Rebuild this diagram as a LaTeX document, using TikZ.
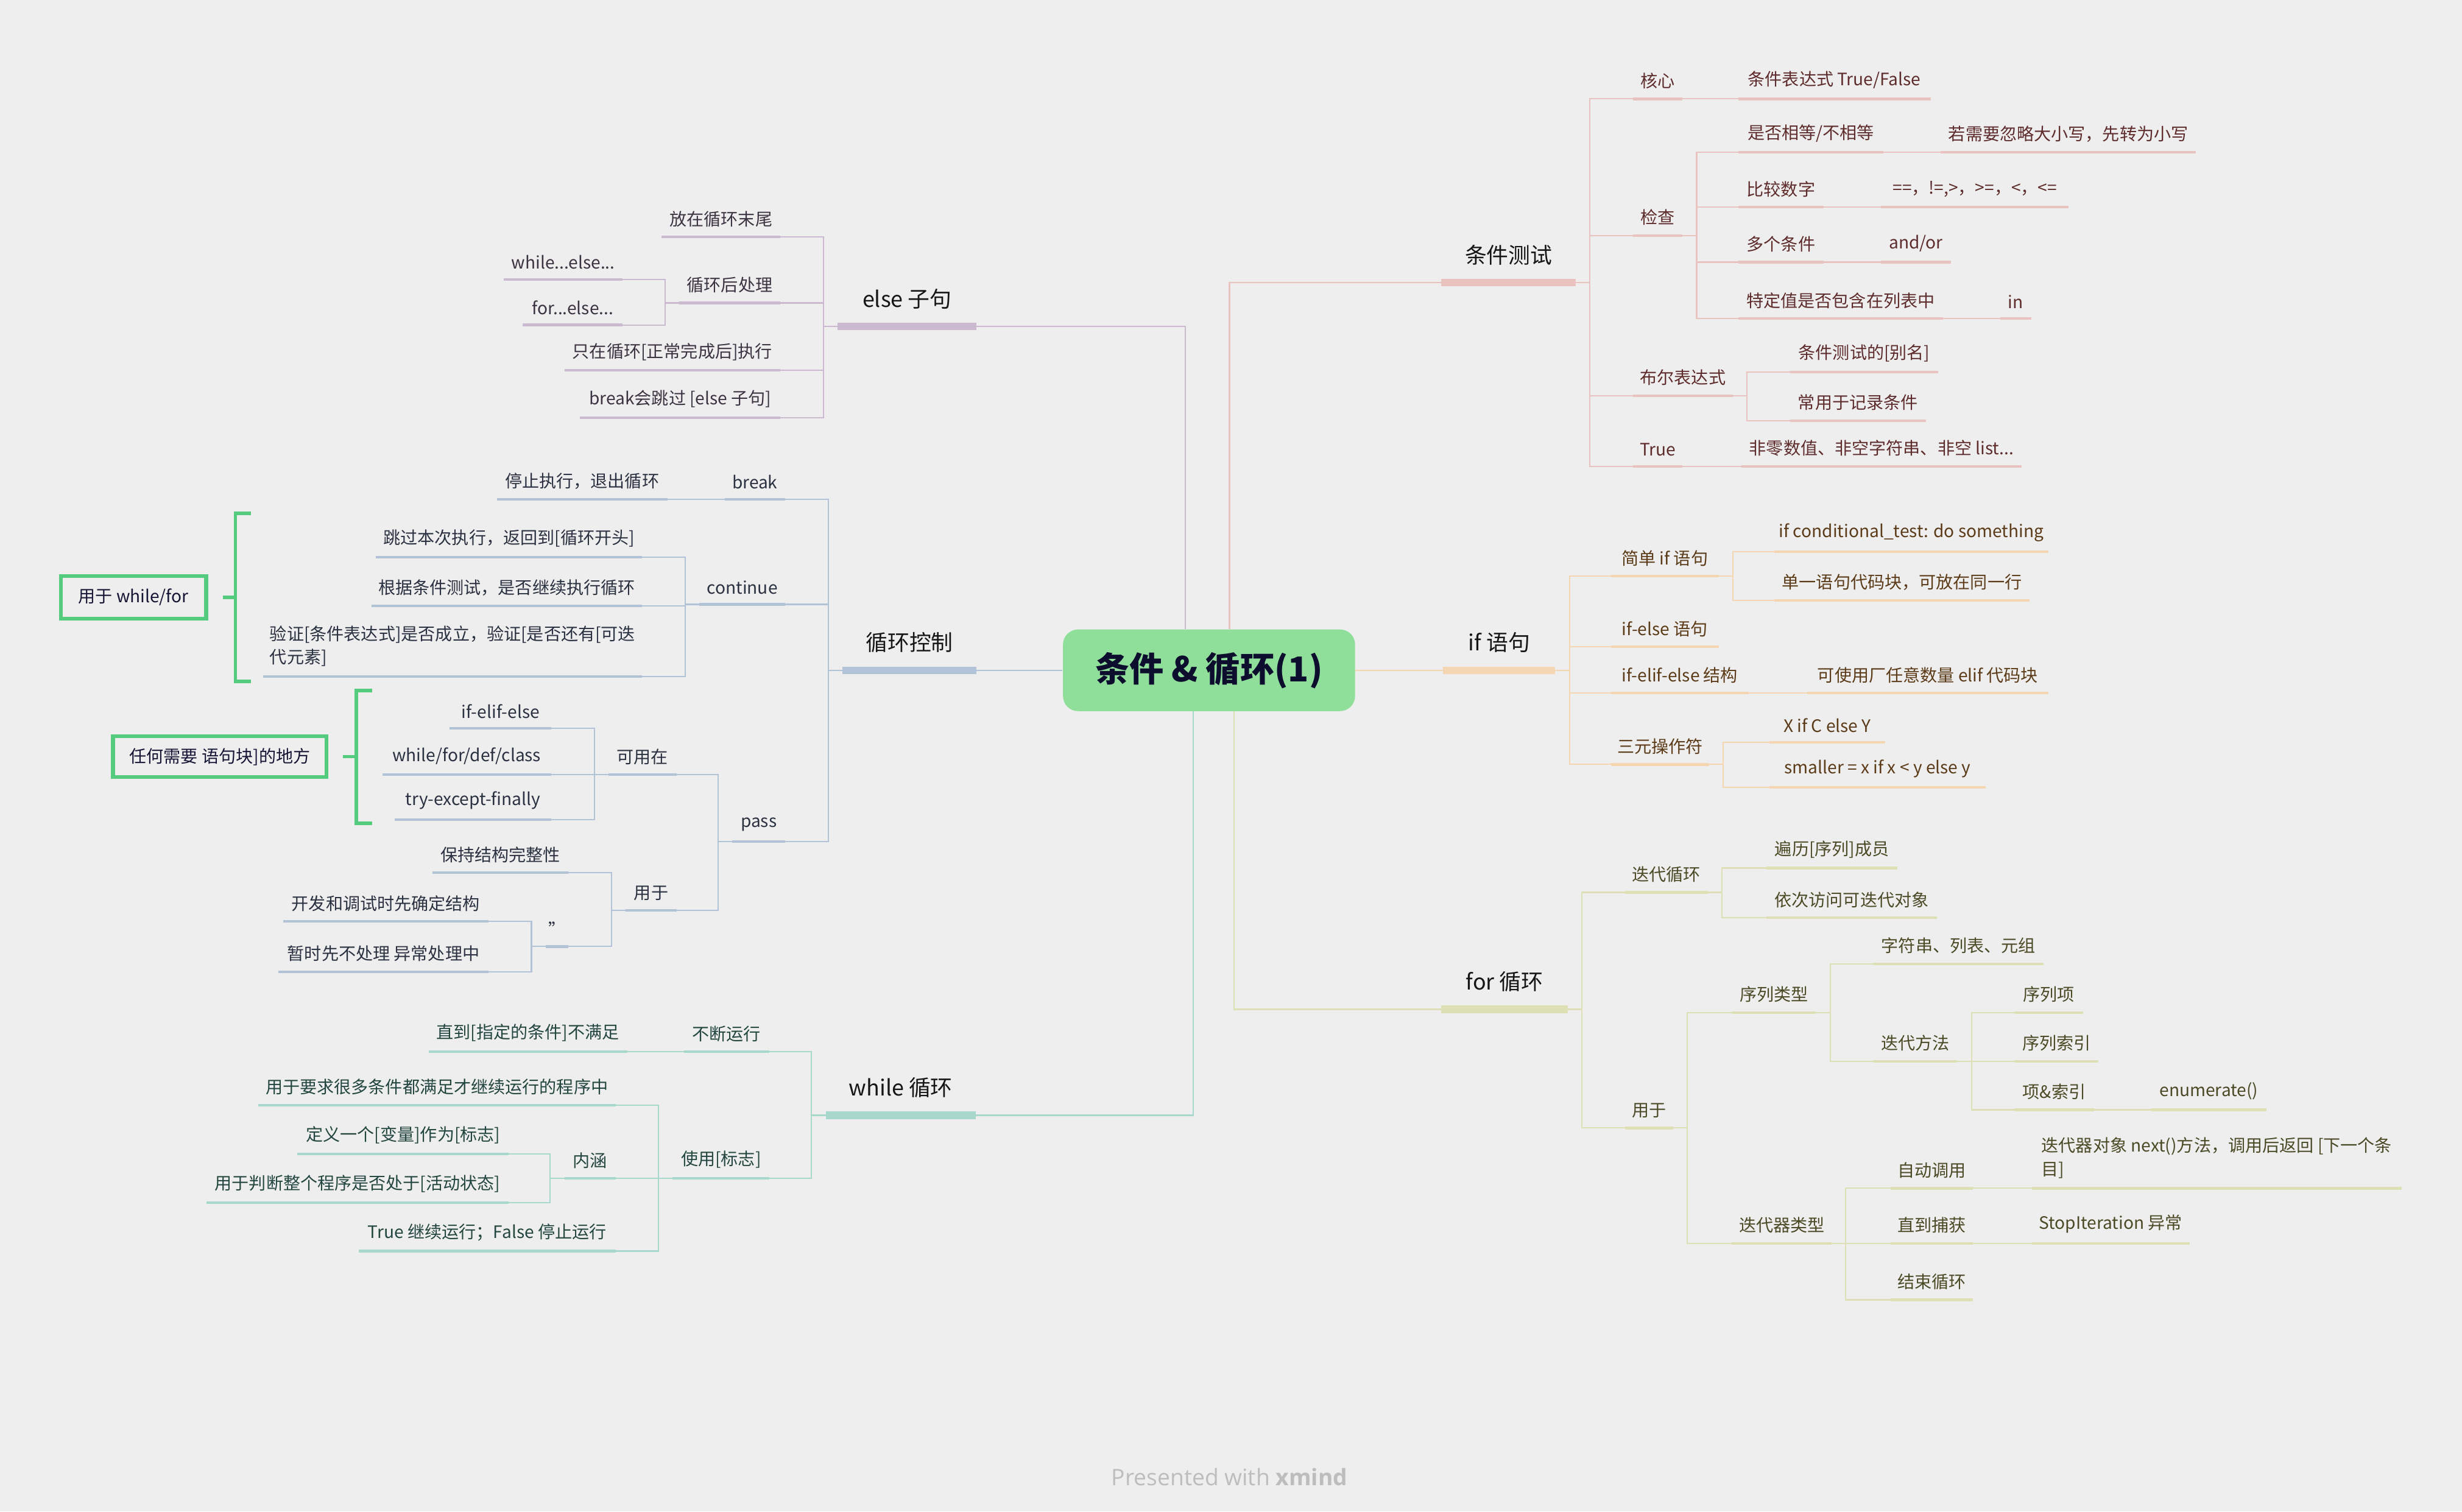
\documentclass[tikz,border=0pt]{standalone}
\usepackage{fontspec}
\setmainfont{Noto Sans CJK SC}
\newfontfamily\footfont{Open Sans}
\usetikzlibrary{calc}
\definecolor{bg}{HTML}{EEEEEE}
\definecolor{rootF}{HTML}{8FDF9A}
\definecolor{rootT}{HTML}{0D0D2E}
\definecolor{topT}{HTML}{161616}
\definecolor{csLine}{HTML}{E9C3BF}
\definecolor{csT}{HTML}{5E2C2C}
\definecolor{ifLine}{HTML}{F5D6B2}
\definecolor{ifT}{HTML}{5C3B19}
\definecolor{frLine}{HTML}{DDE0B4}
\definecolor{frT}{HTML}{4A4A26}
\definecolor{esLine}{HTML}{CBBACF}
\definecolor{esT}{HTML}{3B3341}
\definecolor{lcLine}{HTML}{B3C3D7}
\definecolor{lcT}{HTML}{2A3140}
\definecolor{whLine}{HTML}{A8D7CC}
\definecolor{whT}{HTML}{23463E}
\definecolor{callG}{HTML}{55CB80}
\definecolor{callT}{HTML}{151535}
\definecolor{footG}{HTML}{BDBDBD}
\tikzset{
  rootbox/.style={fill=rootF, rounded corners=7pt, inner sep=0pt, minimum width=186*0.02578cm, minimum height=52*0.02578cm, font=\fontsize{16}{18}\selectfont\bfseries, text=rootT},
  topic/.style={inner xsep=1pt, inner ysep=8pt, minimum width=#1*0.02578cm, font=\fontsize{10.2}{12}\selectfont, text=topT},
  leaf/.style={inner xsep=1pt, inner ysep=4.5pt, minimum width=#1*0.02578cm, font=\fontsize{8}{11}\selectfont},
  leaf/.default=0,
  csnode/.style={leaf=#1, text=csT, anchor=south west}, csnode/.default=0,
  ifnode/.style={leaf=#1, text=ifT, anchor=south west}, ifnode/.default=0,
  fornode/.style={leaf=#1, text=frT, anchor=south west}, fornode/.default=0,
  elsenode/.style={leaf=#1, text=esT, anchor=south east}, elsenode/.default=0,
  ctrlnode/.style={leaf=#1, text=lcT, anchor=south east}, ctrlnode/.default=0,
  whilenode/.style={leaf=#1, text=whT, anchor=south east}, whilenode/.default=0,
  callout/.style={draw=callG, line width=1.8pt, inner sep=0pt, font=\fontsize{8}{11}\selectfont, text=callT},
  csL/.style={draw=csLine, line width=0.6pt},
  ifL/.style={draw=ifLine, line width=0.6pt},
  frL/.style={draw=frLine, line width=0.6pt},
  esL/.style={draw=esLine, line width=0.6pt},
  lcL/.style={draw=lcLine, line width=0.6pt},
  whL/.style={draw=whLine, line width=0.6pt},
  sumL/.style={draw=callG, line width=1.6pt},
}
\begin{document}
\begin{tikzpicture}[x=0.02578cm, y=-0.02578cm]
\fill[bg] (0,0) rectangle (1568,963);
\node[rootbox] (root) at (770,427) {条件 \& 循环(1)};

\node[topic=85, anchor=south west] (cs) at (918,180) {条件测试};
\node[csnode=31] (cs1) at (1040,63) {核心};
\node[csnode=122] (cs1a) at (1107,63) {条件表达式 True/False};
\node[csnode=31] (cs2) at (1040,150) {检查};
\node[csnode=92] (cs2a) at (1107,97) {是否相等/不相等};
\node[csnode=162] (cs2a1) at (1236,97) {若需要忽略大小写，先转为小写};
\node[csnode=54] (cs2b) at (1107,132) {比较数字};
\node[csnode=119] (cs2b1) at (1198,132) {==，!=,>，>=，<，<=};
\node[csnode=54] (cs2c) at (1107,167) {多个条件};
\node[csnode=44] (cs2c1) at (1198,167) {and/or};
\node[csnode=130] (cs2d) at (1107,203) {特定值是否包含在列表中};
\node[csnode=19] (cs2d1) at (1274,203) {in};
\node[csnode=63] (cs3) at (1040,252) {布尔表达式};
\node[csnode=94] (cs3a) at (1140,237) {条件测试的[别名]};
\node[csnode=86] (cs3b) at (1140,268) {常用于记录条件};
\node[csnode=31] (cs4) at (1040,297) {True};
\node[csnode=178] (cs4a) at (1109,297) {非零数值、非空字符串、非空 list...};

\node[topic=71, anchor=south west] (ifs) at (919,427) {if 语句};
\node[ifnode=68] (if1) at (1026,367) {简单 if 语句};
\node[ifnode=174] (if1a) at (1130,351.5) {if conditional\_test: do something};
\node[ifnode=162] (if1b) at (1130,382.5) {单一语句代码块，可放在同一行};
\node[ifnode=68] (if2) at (1026,412) {if-else 语句};
\node[ifnode=87] (if3) at (1026,441.5) {if-elif-else 结构};
\node[ifnode=153] (if3a) at (1151,441.5) {可使用厂任意数量 elif 代码块};
\node[ifnode=62] (if4) at (1026,487) {三元操作符};
\node[ifnode=73] (if4a) at (1127,473) {X if C else Y};
\node[ifnode=137] (if4b) at (1127,501.7) {smaller = x if x < y else y};

\node[topic=80, anchor=south west] (fr) at (918,643) {for 循环};
\node[fornode=52] (fr1) at (1035,568.5) {迭代循环};
\node[fornode=83] (fr1a) at (1125,553) {遍历[序列]成员};
\node[fornode=108] (fr1b) at (1125,584.6) {依次访问可迭代对象};
\node[fornode=30] (fr2) at (1035,718.6) {用于};
\node[fornode=53] (fr2a) at (1103,645) {序列类型};
\node[fornode=108] (fr2a1) at (1193,614) {字符串、列表、元组};
\node[fornode=53] (fr2a2) at (1193,676) {迭代方法};
\node[fornode=43] (fr2a2a) at (1283,645) {序列项};
\node[fornode=53] (fr2a2b) at (1283,676) {序列索引};
\node[fornode=50] (fr2a2c) at (1283,707) {项\&索引};
\node[fornode=73] (fr2a2c1) at (1370,707) {enumerate()};
\node[fornode=63] (fr2b) at (1103,792) {迭代器类型};
\node[fornode=52] (fr2b1) at (1204,757) {自动调用};
\node[fornode=235, align=left] (fr2b1a) at (1294,757) {迭代器对象 next()方法，调用后返回 [下一个条\\目]};
\node[fornode=52] (fr2b2) at (1204,792) {直到捕获};
\node[fornode=100] (fr2b2a) at (1294,792) {StopIteration 异常};
\node[fornode=52] (fr2b3) at (1204,828) {结束循环};

\node[topic=88, anchor=south east] (es) at (622,208) {else 子句};
\node[elsenode=75] (es1) at (497,151) {放在循环末尾};
\node[elsenode=64] (es2) at (497,193) {循环后处理};
\node[elsenode=75] (es2a) at (396.5,178) {while...else...};
\node[elsenode=63] (es2b) at (396.5,207) {for...else...};
\node[elsenode=137] (es3) at (497,236) {只在循环[正常完成后]执行};
\node[elsenode=127] (es4) at (497,266) {break会跳过 [else 子句]};

\node[topic=85, anchor=south east] (lc) at (622,427) {循环控制};
\node[ctrlnode=38] (lc1) at (500,318) {break};
\node[ctrlnode=108] (lc1a) at (425,318) {停止执行，退出循环};
\node[ctrlnode=54] (lc2) at (500,385) {continue};
\node[ctrlnode=169] (lc2a) at (409,355) {跳过本次执行，返回到[循环开头]};
\node[ctrlnode=172] (lc2b) at (409,386) {根据条件测试，是否继续执行循环};
\node[ctrlnode=241, align=left] (lc2c) at (409,431) {验证[条件表达式]是否成立，验证[是否还有[可迭\\代元素]};
\node[ctrlnode=33] (lc3) at (500,536) {pass};
\node[ctrlnode=43] (lc3a) at (431,493.5) {可用在};
\node[ctrlnode=64] (lc3a1) at (351,464) {if-elif-else};
\node[ctrlnode=107] (lc3a2) at (351,493.5) {while/for/def/class};
\node[ctrlnode=99] (lc3a3) at (351,522) {try-except-finally};
\node[ctrlnode=32] (lc3b) at (431,580) {用于};
\node[ctrlnode=86] (lc3b1) at (362,556) {保持结构完整性};
\node[ctrlnode=14] (lc3b2) at (362,603) {"};
\node[ctrlnode=130] (lc3b2a) at (311,587) {开发和调试时先确定结构};
\node[ctrlnode=133] (lc3b2b) at (311,619) {暂时先不处理 异常处理中};
\node[callout, minimum width=92.5*0.02578cm, minimum height=27*0.02578cm] (uw) at (85,380.5) {用于 while/for};
\node[callout, minimum width=136*0.02578cm, minimum height=26*0.02578cm] (uw2) at (140,482) {任何需要 语句块]的地方};

\node[topic=95, anchor=south east] (wh) at (621.4,710.5) {while 循环};
\node[whilenode=54] (wh1) at (490,670) {不断运行};
\node[whilenode=126] (wh1a) at (399.5,670) {直到[指定的条件]不满足};
\node[whilenode=61] (wh2) at (490,750.6) {使用[标志]};
\node[whilenode=227] (wh2a) at (392,704) {用于要求很多条件都满足才继续运行的程序中};
\node[whilenode=32] (wh2b) at (392,750.6) {内涵};
\node[whilenode=134] (wh2b1) at (324,735) {定义一个[变量]作为[标志]};
\node[whilenode=192] (wh2b2) at (324,766) {用于判断整个程序是否处于[活动状态]};
\node[whilenode=163] (wh2c) at (392,797) {True 继续运行；False 停止运行};

\node[font=\footfont\fontsize{10.6}{12}\selectfont, text=footG] (pw) at (783,941) {Presented with \textbf{xmind}};

\draw[csL] ($(root.north)+(13,0)$) |- (cs.south west);
\draw[ifL] (root.east) -- (ifs.south west);
\draw[frL] ($(root.south)+(16,0)$) |- (fr.south west);
\draw[esL] ($(root.north)+(-15,0)$) |- (es.south east);
\draw[lcL] (root.west) -- (lc.south east);
\draw[whL] ($(root.south)+(-10,0)$) |- (wh.south east);

\draw[csL, line width=3.5pt] (cs.south west) -- (cs.south east);
\draw[ifL, line width=3.5pt] (ifs.south west) -- (ifs.south east);
\draw[frL, line width=3.5pt] (fr.south west) -- (fr.south east);
\draw[esL, line width=3.5pt] (es.south west) -- (es.south east);
\draw[lcL, line width=3.5pt] (lc.south west) -- (lc.south east);
\draw[whL, line width=3.5pt] (wh.south west) -- (wh.south east);

\foreach \n in {cs1,cs1a,cs2,cs2a,cs2a1,cs2b,cs2b1,cs2c,cs2c1,cs2d,cs2d1,cs3,cs3a,cs3b,cs4,cs4a}
  \draw[csL, line width=1.2pt] (\n.south west) -- (\n.south east);
\foreach \n in {if1,if1a,if1b,if2,if3,if3a,if4,if4a,if4b}
  \draw[ifL, line width=1.2pt] (\n.south west) -- (\n.south east);
\foreach \n in {fr1,fr1a,fr1b,fr2,fr2a,fr2a1,fr2a2,fr2a2a,fr2a2b,fr2a2c,fr2a2c1,fr2b,fr2b1,fr2b1a,fr2b2,fr2b2a,fr2b3}
  \draw[frL, line width=1.2pt] (\n.south west) -- (\n.south east);
\foreach \n in {es1,es2,es2a,es2b,es3,es4}
  \draw[esL, line width=1.2pt] (\n.south west) -- (\n.south east);
\foreach \n in {lc1,lc1a,lc2,lc2a,lc2b,lc2c,lc3,lc3a,lc3a1,lc3a2,lc3a3,lc3b,lc3b1,lc3b2,lc3b2a,lc3b2b}
  \draw[lcL, line width=1.2pt] (\n.south west) -- (\n.south east);
\foreach \n in {wh1,wh1a,wh2,wh2a,wh2b,wh2b1,wh2b2,wh2c}
  \draw[whL, line width=1.2pt] (\n.south west) -- (\n.south east);

\foreach \a/\b in {cs/cs1,cs/cs2,cs/cs3,cs/cs4,cs1/cs1a,cs2/cs2a,cs2/cs2b,cs2/cs2c,cs2/cs2d,cs2a/cs2a1,cs2b/cs2b1,cs2c/cs2c1,cs2d/cs2d1,cs3/cs3a,cs3/cs3b,cs4/cs4a}
  \draw[csL] (\a.south east) -- ++(9,0) |- (\b.south west);
\foreach \a/\b in {ifs/if1,ifs/if2,ifs/if3,ifs/if4,if1/if1a,if1/if1b,if3/if3a,if4/if4a,if4/if4b}
  \draw[ifL] (\a.south east) -- ++(9,0) |- (\b.south west);
\foreach \a/\b in {fr/fr1,fr/fr2,fr1/fr1a,fr1/fr1b,fr2/fr2a,fr2/fr2b,fr2a/fr2a1,fr2a/fr2a2,fr2a2/fr2a2a,fr2a2/fr2a2b,fr2a2/fr2a2c,fr2a2c/fr2a2c1,fr2b/fr2b1,fr2b/fr2b2,fr2b/fr2b3,fr2b1/fr2b1a,fr2b2/fr2b2a}
  \draw[frL] (\a.south east) -- ++(9,0) |- (\b.south west);
\foreach \a/\b in {es/es1,es/es2,es/es3,es/es4,es2/es2a,es2/es2b}
  \draw[esL] (\a.south west) -- ++(-9,0) |- (\b.south east);
\foreach \a/\b in {lc/lc1,lc/lc2,lc/lc3,lc1/lc1a,lc2/lc2a,lc2/lc2b,lc2/lc2c,lc3/lc3a,lc3/lc3b,lc3a/lc3a1,lc3a/lc3a2,lc3a/lc3a3,lc3b/lc3b1,lc3b/lc3b2,lc3b2/lc3b2a,lc3b2/lc3b2b}
  \draw[lcL] (\a.south west) -- ++(-9,0) |- (\b.south east);
\foreach \a/\b in {wh/wh1,wh/wh2,wh1/wh1a,wh2/wh2a,wh2/wh2b,wh2/wh2c,wh2b/wh2b1,wh2b/wh2b2}
  \draw[whL] (\a.south west) -- ++(-9,0) |- (\b.south east);

\draw[sumL] (160,327) -| (150,434) -- (160,434);
\draw[sumL] (uw.east) ++(9.5,0) -- (150,380.5);
\draw[sumL] (237,440) -| (227,524.5) -- (237,524.5);
\draw[sumL] (uw2.east) ++(9,0) -- (227,482);
\end{tikzpicture}
\end{document}
